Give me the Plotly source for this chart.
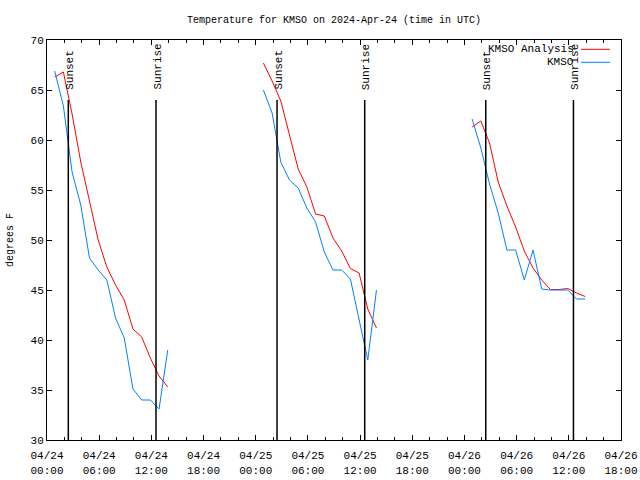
import plotly.graph_objects as go

# ---- data ----
days = ["2024-04-24", "2024-04-25", "2024-04-26"]
obs_hours = ["00:53", "01:53", "02:53", "03:53", "04:53", "05:53", "06:53",
             "07:53", "08:53", "09:53", "10:53", "11:53", "12:53", "13:53"]

obs_0424 = [66.9, 63.4, 56.8, 53.5, 48.2, 47.0, 46.0, 42.2, 40.2, 35.1, 34.0, 34.0, 33.1, 39.0]
ana_0424 = [66.3, 66.8, 62.6, 57.8, 53.9, 50.0, 47.3, 45.5, 44.0, 41.1, 40.3, 38.2, 36.4, 35.3]
obs_0425 = [65.0, 62.7, 57.8, 56.0, 55.2, 53.2, 51.8, 48.8, 47.0, 47.0, 46.1, 42.0, 38.0, 45.0]
ana_0425 = [67.7, 65.9, 63.9, 60.5, 57.1, 55.3, 52.6, 52.4, 50.2, 48.9, 47.15, 46.7, 43.1, 41.2]
obs_0426 = [62.1, 59.2, 55.6, 52.7, 49.0, 49.0, 46.0, 49.0, 45.1, 45.0, 45.0, 45.0, 44.1, 44.1]
ana_0426 = [61.3, 61.9, 59.7, 55.8, 53.4, 51.3, 48.9, 47.2, 46.0, 45.05, 45.05, 45.15, 44.7, 44.35]

sunset_times = ["2024-04-24 02:27", "2024-04-25 02:27", "2024-04-26 02:27"]
sunrise_times = ["2024-04-24 12:32", "2024-04-25 12:32", "2024-04-26 12:32"]

x_range = ["2024-04-24 00:00", "2024-04-26 18:00"]
y_range = [30, 70]
y_ticks = [30, 35, 40, 45, 50, 55, 60, 65, 70]
event_top = 64.0
label_base = 64.8

title_text = "Temperature for KMSO on 2024-Apr-24 (time in UTC)"
ana_name = "KMSO Analysis"
obs_name = "KMSO"
y_label = "degrees F"

RED = "#ff0000"
BLUE = "#0080ff"
FONT = "Liberation Mono, DejaVu Sans Mono, monospace"
FS = 10


def join_days(per_day):
    xs, ys = [], []
    for d, vals in zip(days, per_day):
        if xs:
            xs.append(None)
            ys.append(None)
        xs += [f"{d} {h}" for h in obs_hours]
        ys += list(vals)
    return xs, ys


ana_x, ana_y = join_days([ana_0424, ana_0425, ana_0426])
obs_x, obs_y = join_days([obs_0424, obs_0425, obs_0426])

fig = go.Figure()
fig.add_trace(go.Scatter(x=ana_x, y=ana_y, mode="lines", name=ana_name,
                         line=dict(color=RED, width=1), connectgaps=False,
                         showlegend=False))
fig.add_trace(go.Scatter(x=obs_x, y=obs_y, mode="lines", name=obs_name,
                         line=dict(color=BLUE, width=1), connectgaps=False,
                         showlegend=False))

# sunset / sunrise markers
for label, times in (("Sunset", sunset_times), ("Sunrise", sunrise_times)):
    for t in times:
        fig.add_shape(type="line", xref="x", yref="y", x0=t, x1=t,
                      y0=y_range[0], y1=event_top,
                      line=dict(color="black", width=1.5))
        fig.add_annotation(x=t, y=label_base, xref="x", yref="y", text=label,
                           textangle=-90, showarrow=False, xanchor="center",
                           yanchor="bottom", xshift=1.5,
                           font=dict(family=FONT, size=FS + 1, color="black"))

# manual gnuplot-style key (text left, sample right)
L, R, T, B = 47, 621, 40, 440
W, H = R - L, B - T


def px(xp):
    return (xp - L) / W


def py(yp):
    return (B - yp) / H


for name, color, ypix in ((ana_name, RED, 49.3), (obs_name, BLUE, 62.3)):
    fig.add_annotation(xref="paper", yref="paper", x=px(576), y=py(ypix),
                       text=name, showarrow=False, xanchor="right",
                       yanchor="middle",
                       font=dict(family=FONT, size=FS + 1, color="black"))
    fig.add_shape(type="line", xref="paper", yref="paper",
                  x0=px(581), x1=px(610), y0=py(ypix), y1=py(ypix),
                  line=dict(color=color, width=1))

fig.add_annotation(xref="paper", yref="paper", x=px(10), y=0.5,
                   text=y_label, textangle=-90, showarrow=False,
                   xanchor="center", yanchor="middle",
                   font=dict(family=FONT, size=FS, color="black"))

fig.update_layout(
    width=640, height=480,
    margin=dict(l=L, r=640 - R, t=T, b=480 - B, autoexpand=False),
    paper_bgcolor="white", plot_bgcolor="white",
    font=dict(family=FONT, size=FS, color="black"),
    title=dict(text=title_text, x=0.5, xref="paper", xanchor="center",
               y=1 - 19 / 480, yref="container", yanchor="middle",
               font=dict(family=FONT, size=FS, color="black")),
    showlegend=False,
)

fig.update_xaxes(
    type="date", range=x_range, showgrid=False, zeroline=False,
    automargin=False,
    showline=True, linecolor="black", linewidth=1, mirror="ticks",
    ticks="inside", ticklen=5, tickcolor="black", tickwidth=1,
    tick0="2024-04-24", dtick=6 * 3600 * 1000,
    tickformat="%m/%d<br>%H:%M", ticklabelstandoff=5,
    tickfont=dict(family=FONT, size=FS + 1, color="black"),
    minor=dict(ticks="inside", ticklen=3, tickcolor="black",
               dtick=2 * 3600 * 1000, showgrid=False),
)
fig.update_yaxes(
    range=y_range, tickvals=y_ticks, showgrid=False, zeroline=False,
    automargin=False,
    showline=True, linecolor="black", linewidth=1, mirror="ticks",
    ticks="inside", ticklen=5, tickcolor="black", tickwidth=1,
    tickfont=dict(family=FONT, size=FS + 1, color="black"),
)

fig.write_html("out.html")
